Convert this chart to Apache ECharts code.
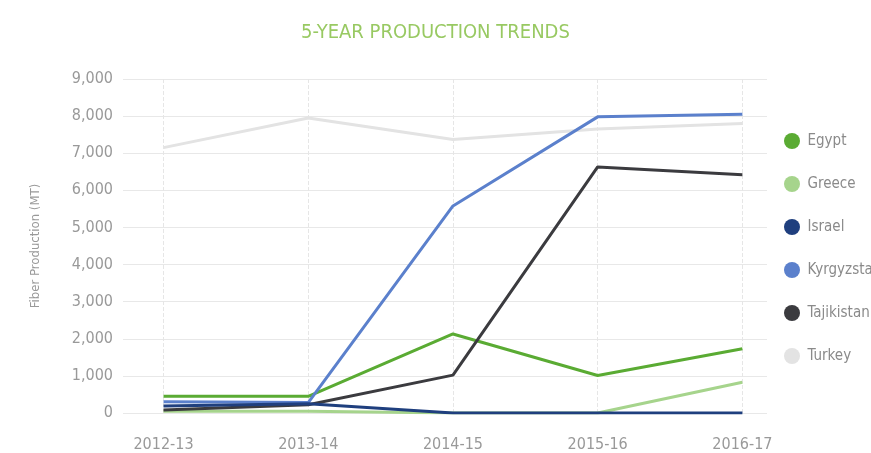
<!DOCTYPE html>
<html><head><meta charset="utf-8">
<script src="https://cdn.jsdelivr.net/npm/echarts@6/dist/echarts.min.js"></script>
<style>html,body{margin:0;padding:0;background:#fff}#c{width:871px;height:453px}</style>
</head><body><div id="c"></div>
<script>
const categories = ['2012-13','2013-14','2014-15','2015-16','2016-17'];
const egypt      = [450, 450, 2130, 1010, 1730];
const greece     = [50, 50, 0, 0, 830];
const israel     = [190, 250, 0, 0, 0];
const kyrgyzstan = [300, 280, 5580, 7980, 8050];
const tajikistan = [80, 220, 1020, 6630, 6420];
const turkey     = [7150, 7950, 7370, 7650, 7800];
const yTicks = [0,1000,2000,3000,4000,5000,6000,7000,8000,9000];

const names = ['Egypt','Greece','Israel','Kyrgyzstan','Tajikistan','Turkey'];
const colors = ['#5aab33','#a6d48c','#1f3f7e','#5b80cc','#3b3b3f','#e3e3e3'];
const values = [egypt, greece, israel, kyrgyzstan, tajikistan, turkey];
const font = '"DejaVu Sans Condensed", "Liberation Sans Narrow", "Roboto", sans-serif';

const order = [5,0,1,3,4,2];
const series = names.map((n,i)=>({
  name:n, type:'line', symbol:'none', smooth:false,
  data: values[i].map((v,j)=>[j,v]),
  lineStyle:{width:3,color:colors[i]}, itemStyle:{color:colors[i]},
  z: 2 + order.indexOf(i)
}));

const chart = echarts.init(document.getElementById('c'));
chart.setOption({
  animation:false,
  title:{text:'5-YEAR PRODUCTION TRENDS', left:'center', top:18,
    textStyle:{color:'#98c962', fontSize:20, fontWeight:'normal', fontFamily:font}},
  legend:{orient:'vertical', left:779, top:128, itemGap:27, icon:'circle',
    itemWidth:17, itemHeight:16,
    textStyle:{color:'#8a8a8a', fontSize:15, fontFamily:font, padding:[0,0,0,2]},
    data:names},
  grid:{left:123, right:104, top:79, bottom:40},
  xAxis:{type:'value', min:-0.28, max:4.17,
    axisLine:{show:false}, axisTick:{show:false, customValues:[0,1,2,3,4]},
    axisLabel:{customValues:[0,1,2,3,4], formatter:v=>categories[Math.round(v)],
      color:'#999', fontSize:16, fontFamily:font, margin:24},
    splitLine:{show:true, lineStyle:{color:'#e6e6e6', type:'dashed', width:1}}},
  yAxis:{type:'value', min:yTicks[0], max:yTicks[yTicks.length-1], interval:1000,
    name:'Fiber Production (MT)', nameLocation:'middle', nameGap:81, nameRotate:90,
    nameTextStyle:{color:'#999', fontSize:13, fontFamily:font},
    axisLine:{show:false}, axisTick:{show:false},
    axisLabel:{color:'#999', fontSize:16, fontFamily:font, margin:10,
      formatter:v=>v.toLocaleString('en-US')},
    splitLine:{lineStyle:{color:'#e8e8e8', width:1}}},
  series
});
</script></body></html>
